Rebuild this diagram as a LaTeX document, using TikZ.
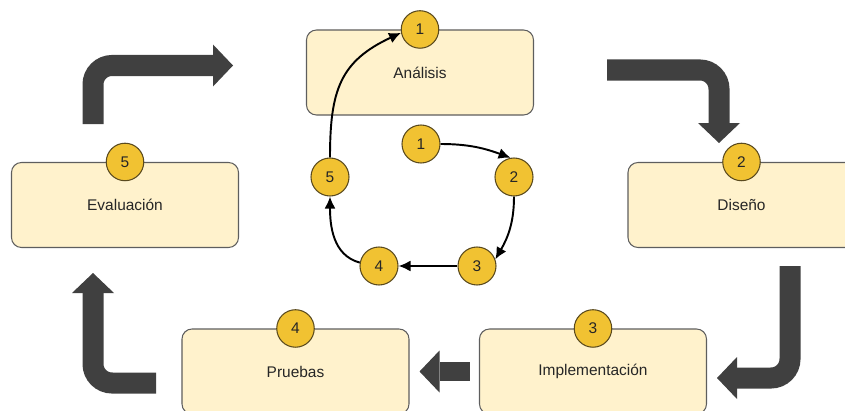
\documentclass[tikz,border=0pt]{standalone}
\usepackage{fontspec}
\setmainfont{Liberation Sans}
\usetikzlibrary{arrows.meta}

\definecolor{boxfill}{HTML}{FFF2CC}
\definecolor{boxline}{HTML}{5E5E5E}
\definecolor{numfill}{HTML}{F1C232}
\definecolor{numline}{HTML}{5A4A1E}
\definecolor{arrowgray}{HTML}{404040}

\tikzset{
    phase/.style = {draw=boxline, line width=0.6pt, fill=boxfill, rounded corners=2mm,
        minimum width=45.4mm, minimum height=17mm, text=black!85,
        font=\fontsize{8.8}{10}\selectfont},
    num/.style = {circle, draw=numline, line width=0.6pt, fill=numfill, inner sep=0pt,
        minimum size=7.5mm, text=black!85, font=\fontsize{8.8}{10}\selectfont},
    flow/.style = {line width=1.1pt, -{Latex[length=2.4mm, width=2.2mm]}},
    bigflow/.style = {draw=arrowgray, line width=4.2mm, rounded corners=3.8mm,
        -{Triangle[length=4mm, width=8.4mm, line width=0pt]}}
}

\begin{document}
\begin{tikzpicture}[x=0.2mm, y=0.2mm]
    \useasboundingbox (0, 0) rectangle (845, 410);
    \clip (0, 0) rectangle (845, 410);

    % phases with their number on top
    \foreach \name/\x/\y/\lab/\n in {analisis/420/337.5/Análisis/1, diseno/741.5/205/Diseño/2,
            implementacion/593/38.5/Implementación/3, pruebas/295.5/38.5/Pruebas/4,
            evaluacion/125/205/Evaluación/5}{
        \node[phase] (\name) at (\x, \y) {\lab};
        \node[num] (b\n) at (\name.north) {\n};
    }

    % small cycle in the middle
    \foreach \n/\x/\y in {1/421/266, 2/514/233, 3/477/144, 4/379/144, 5/330/233}{
        \node[num, minimum size=7.6mm] (c\n) at (\x, \y) {\n};
    }
    \draw[flow] (c1) to[out=0, in=160] (c2.100);
    \draw[flow] (c2) to[out=-90, in=60] (c3.20);
    \draw[flow] (c3) -- (c4);
    \draw[flow] (c4.170) to[out=165, in=-90] (c5);
    \draw[flow] (c5) to[out=90, in=205, looseness=1.2] (b1.190);

    % big arrows between the phases
    \coordinate (e1) at (93, 286);    \coordinate (a1) at (233, 344.5);
    \coordinate (a2s) at (607, 340);  \coordinate (d2) at (719, 267);
    \coordinate (d3s) at (790, 144);  \coordinate (i3) at (717, 32);
    \coordinate (p5s) at (156, 27);   \coordinate (v5) at (93, 137);
    \draw[bigflow] (e1) |- (a1);
    \draw[bigflow] (a2s) -| (d2);
    \draw[bigflow] (d3s) |- (i3);
    \draw[bigflow, line width=3.8mm] ([xshift=-1.8mm]implementacion.west) -- ([xshift=2mm]pruebas.east);
    \draw[bigflow] (p5s) -| (v5);
\end{tikzpicture}
\end{document}
